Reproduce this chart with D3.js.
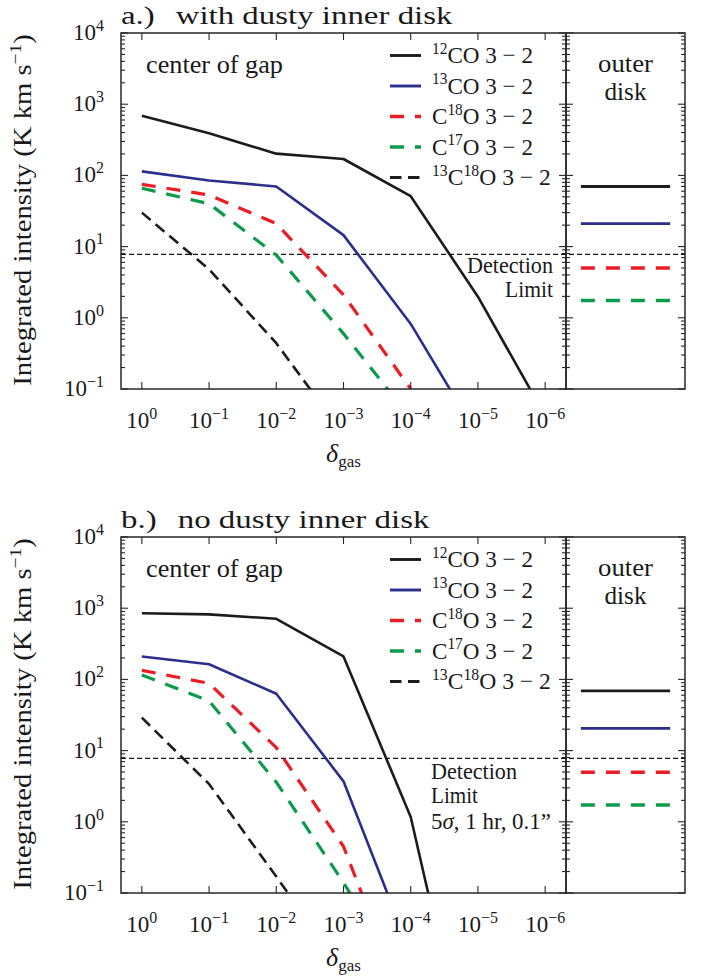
<!DOCTYPE html>
<html>
<head>
<meta charset="utf-8">
<script src="https://cdn.jsdelivr.net/npm/d3@7"></script>
<style>
  body { margin: 0; background: #fff; }
</style>
</head>
<body>
<svg id="chart" width="707" height="978"></svg>
<script>
// ---- data -------------------------------------------------------------
const deltaGas = [1, 1e-1, 1e-2, 1e-3, 1e-4, 1e-5, 1e-6];
const xTickExponents = [0, -1, -2, -3, -4, -5, -6];
const yTickExponents = [-1, 0, 1, 2, 3, 4];

// integrated intensity at the gap centre, K km/s (one value per delta_gas step)
const co12WithDust   = [690, 390, 202, 170, 51, 1.98, 0.042];
const co13WithDust   = [114, 85, 70, 14.5, 0.82, 0.022];
const c18oWithDust   = [75, 53, 21, 2.1, 0.1];
const c17oWithDust   = [66, 40, 7.6, 0.6, 0.039];
const c1318oWithDust = [30, 4.8, 0.44, 0.023];

const co12NoDust   = [850, 820, 710, 210, 1.17, 0.00009];
const co13NoDust   = [210, 163, 63, 3.7, 0.0145];
const c18oNoDust   = [134, 88, 11, 0.45, 0.0017];
const c17oNoDust   = [115, 50, 3.6, 0.14, 0.004];
const c1318oNoDust = [29, 3.4, 0.17, 0.008];

// outer disk: 12CO, 13CO, C18O, C17O
const outerWithDust = [70, 21, 5.0, 1.75];
const outerNoDust   = [69, 20.5, 4.95, 1.72];

const detectionLimit = 7.8;

// ---- species styling and legend labels ---------------------------------
const species = [
  { label: [["sup", "12"], ["", "CO 3 − 2"]],               color: "#1c1c1c", dash: null,        width: 2.6 },
  { label: [["sup", "13"], ["", "CO 3 − 2"]],               color: "#2b2e8c", dash: null,        width: 2.6 },
  { label: [["", "C"], ["sup", "18"], ["", "O 3 − 2"]],     color: "#ec1c24", dash: "14,11",     width: 3.2 },
  { label: [["", "C"], ["sup", "17"], ["", "O 3 − 2"]],     color: "#0c9a4c", dash: "14,11",     width: 3.2 },
  { label: [["sup", "13"], ["", "C"], ["sup", "18"], ["", "O 3 − 2"]], color: "#1c1c1c", dash: "11.5,6.5", width: 2.6 }
];

const panels = [
  {
    id: "a", top: 33, titleHead: "a.)", titleRest: "with dusty inner disk", titleWidth: 319,
    series: [co12WithDust, co13WithDust, c18oWithDust, c17oWithDust, c1318oWithDust],
    outer: outerWithDust,
    note: [["Detection", 86], ["Limit", 48]], noteAnchor: "end", noteX: 553, noteDy: [240, 264]
  },
  {
    id: "b", top: 537, titleHead: "b.)", titleRest: "no dusty inner disk", titleWidth: 296,
    series: [co12NoDust, co13NoDust, c18oNoDust, c17oNoDust, c1318oNoDust],
    outer: outerNoDust,
    note: [["Detection", 86], ["Limit", 47], ["5σ, 1 hr, 0.1”", 120]], noteAnchor: "start", noteX: 431, noteDy: [242, 266, 292]
  }
];

// ---- layout ---------------------------------------------------------------
const plotLeft = 121, plotRight = 566, outerRight = 685, plotHeight = 356;
const axisColor = "#262626";
const serif = '"Liberation Serif", "Times New Roman", serif';
const svg = d3.select("#chart");

const x = d3.scaleLog()
  .domain([Math.pow(10, 0.31), Math.pow(10, -6.31)])
  .range([plotLeft, plotRight]);
const xOuter = d3.scaleLinear().domain([0, 1]).range([plotRight, outerRight]);

function label(parent) {
  return parent.append("text").style("font-family", serif).style("fill", "#1a1a1a");
}
function rich(textSel, parts, size, supSize) {
  let shift = 0;
  parts.forEach(([kind, str]) => {
    const t = textSel.append("tspan").text(str);
    if (kind === "sup") {
      t.attr("font-size", supSize).attr("dy", -0.4 * size - shift);
      shift = -0.4 * size;
    } else {
      t.attr("font-size", size);
      if (shift !== 0) { t.attr("dy", -shift); shift = 0; }
    }
  });
  return textSel;
}
// widen a text horizontally about its anchor so it spans w pixels
function fit(sel, w) {
  const natural = sel.node().getComputedTextLength();
  const k = w / natural;
  const base = sel.attr("transform");
  if (base) {
    sel.attr("transform", `${base} scale(${k},1)`);
  } else {
    const ax = +sel.attr("x");
    sel.attr("transform", `translate(${ax},0) scale(${k},1) translate(${-ax},0)`);
  }
  return sel;
}

panels.forEach((p) => {
  const top = p.top, bottom = top + plotHeight;
  const y = d3.scaleLog().domain([0.1, 1e4]).range([bottom, top]);
  const g = svg.append("g").attr("class", "panel-" + p.id);

  const clipId = "clip-" + p.id;
  g.append("clipPath").attr("id", clipId)
    .append("rect").attr("x", plotLeft).attr("y", top)
    .attr("width", plotRight - plotLeft).attr("height", plotHeight);

  // detection limit across both panels
  g.append("line")
    .attr("x1", plotLeft).attr("x2", outerRight)
    .attr("y1", y(detectionLimit)).attr("y2", y(detectionLimit))
    .attr("stroke", "#111").attr("stroke-width", 1.3).attr("stroke-dasharray", "5,3");

  // model curves
  const line = d3.line().x(d => x(d.x)).y(d => y(d.v));
  const curves = g.append("g").attr("clip-path", `url(#${clipId})`);
  p.series.forEach((vals, si) => {
    const s = species[si];
    const pts = vals.map((v, i) => ({ x: deltaGas[i], v }));
    curves.append("path").datum(pts)
      .attr("d", line)
      .attr("fill", "none")
      .attr("stroke", s.color)
      .attr("stroke-width", s.width)
      .attr("stroke-linejoin", "round")
      .attr("stroke-dasharray", s.dash);
  });

  // outer disk levels
  p.outer.forEach((v, si) => {
    const s = species[si];
    g.append("line")
      .attr("x1", xOuter(0.125)).attr("x2", xOuter(0.875))
      .attr("y1", y(v)).attr("y2", y(v))
      .attr("stroke", s.color).attr("stroke-width", s.width + 0.3)
      .attr("stroke-dasharray", s.dash);
  });

  // spines
  const frame = g.append("g").attr("fill", "none").attr("stroke", axisColor).attr("stroke-width", 1.5);
  frame.append("rect").attr("x", plotLeft).attr("y", top).attr("width", plotRight - plotLeft).attr("height", plotHeight);
  frame.append("rect").attr("x", plotRight).attr("y", top).attr("width", outerRight - plotRight).attr("height", plotHeight);

  // y ticks (major + minor) on every vertical spine, pointing inward
  const yTicks = y.ticks();
  const tickG = g.append("g").attr("stroke", axisColor).attr("stroke-width", 1.1);
  const spines = [[plotLeft, 1], [plotRight, -1], [plotRight, 1], [outerRight, -1]];
  spines.forEach(([sx, dir]) => {
    yTicks.forEach(t => {
      const major = Math.abs(Math.log10(t) - Math.round(Math.log10(t))) < 1e-9;
      const len = major ? 7 : 4;
      tickG.append("line")
        .attr("x1", sx).attr("x2", sx + dir * len)
        .attr("y1", y(t)).attr("y2", y(t));
    });
  });

  // x ticks, top and bottom
  deltaGas.forEach(d => {
    tickG.append("line").attr("x1", x(d)).attr("x2", x(d)).attr("y1", bottom).attr("y2", bottom - 7);
    tickG.append("line").attr("x1", x(d)).attr("x2", x(d)).attr("y1", top).attr("y2", top + 7);
  });

  // tick labels
  yTickExponents.forEach(e => {
    const t = label(g).attr("x", plotLeft - 17).attr("y", y(Math.pow(10, e)) + 7)
      .attr("text-anchor", "end");
    rich(t, [["", "10"], ["sup", e < 0 ? "−" + Math.abs(e) : String(e)]], 23, 16);
  });
  xTickExponents.forEach(e => {
    const t = label(g).attr("x", x(Math.pow(10, e))).attr("y", bottom + 39)
      .attr("text-anchor", "middle");
    rich(t, [["", "10"], ["sup", e < 0 ? "−" + Math.abs(e) : String(e)]], 23, 16);
  });

  // axis titles
  const yl = label(g)
    .attr("transform", `translate(31,${(top + bottom) / 2 - 1}) rotate(-90)`)
    .attr("text-anchor", "middle");
  rich(yl, [["", "Integrated intensity (K km s"], ["sup", "−1"], ["", ")"]], 25, 17);
  fit(yl, 352);

  const xl = label(g).attr("x", (plotLeft + plotRight) / 2).attr("y", bottom + 73)
    .attr("text-anchor", "middle");
  xl.append("tspan").attr("font-style", "italic").attr("font-size", 26).text("δ");
  xl.append("tspan").attr("font-size", 17).attr("dy", 5).text("gas");

  // panel title
  const tt = label(g).attr("x", plotLeft).attr("y", top - 9);
  tt.append("tspan").attr("font-size", 26).text(p.titleHead);
  tt.append("tspan").attr("font-size", 26).attr("dx", 10).text(" " + p.titleRest);
  fit(tt, p.titleWidth);

  // in-plot annotations
  fit(label(g).attr("x", 146).attr("y", top + 40).attr("font-size", 25).text("center of gap"), 137);
  const oc = xOuter(0.5);
  fit(label(g).attr("x", oc).attr("y", top + 39).attr("text-anchor", "middle").attr("font-size", 25).text("outer"), 55);
  fit(label(g).attr("x", oc).attr("y", top + 67).attr("text-anchor", "middle").attr("font-size", 25).text("disk"), 42);

  p.note.forEach(([txt, w], i) => {
    const n = label(g).attr("x", p.noteX).attr("y", top + p.noteDy[i])
      .attr("text-anchor", p.noteAnchor).attr("font-size", 24);
    if (txt.startsWith("5σ")) {
      n.append("tspan").text("5");
      n.append("tspan").attr("font-style", "italic").text("σ");
      n.append("tspan").text(", 1 hr, 0.1”");
    } else {
      n.text(txt);
    }
    fit(n, w);
  });

  // legend
  const legendWidths = [101, 101, 101, 101, 119];
  species.forEach((s, si) => {
    const ly = top + 22.5 + si * 30.5;
    g.append("line")
      .attr("x1", 390).attr("x2", 421).attr("y1", ly).attr("y2", ly)
      .attr("stroke", s.color).attr("stroke-width", s.width + 0.3)
      .attr("stroke-dasharray", s.dash);
    const lt = label(g).attr("x", 432).attr("y", ly + 8);
    rich(lt, s.label, 24, 16);
    fit(lt, legendWidths[si]);
  });
});
</script>
</body>
</html>
